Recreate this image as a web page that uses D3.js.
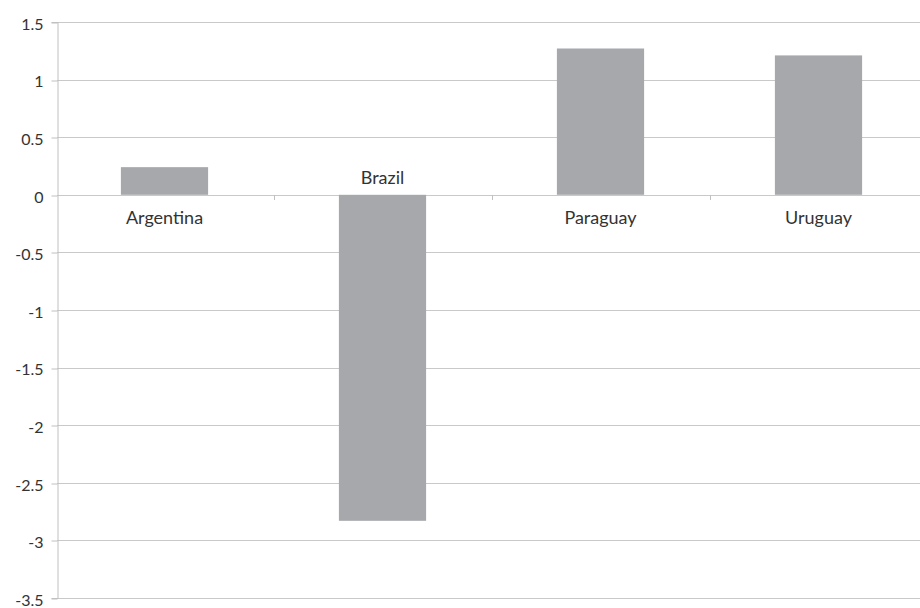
<!DOCTYPE html>
<html>
<head>
<meta charset="utf-8">
<script src="https://cdn.jsdelivr.net/npm/d3@7"></script>
<style>
  html, body { margin: 0; padding: 0; background: #fff; }
  svg { display: block; }
  text { font-family: Lato, "Open Sans", sans-serif; fill: #333; }
</style>
</head>
<body>
<svg id="chart" width="920" height="608"></svg>
<script>
const categories = ["Argentina", "Brazil", "Paraguay", "Uruguay"];
const values = [0.24, -2.83, 1.27, 1.21];
const yTicks = [1.5, 1, 0.5, 0, -0.5, -1, -1.5, -2, -2.5, -3, -3.5];
const yTickLabels = ["1.5", "1", "0.5", "0", "-0.5", "-1", "-1.5", "-2", "-2.5", "-3", "-3.5"];

const svg = d3.select("#chart");
const W = 920;
const axisX = 57;

const x = d3.scaleBand().domain(categories).range([55.5, 927.5]).paddingInner(0.6).paddingOuter(0.3);
const y = d3.scaleLinear().domain([-3.5, 1.5]).range([598, 22]);

// gridlines
svg.append("g").selectAll("line").data(yTicks).join("line")
  .attr("x1", axisX).attr("x2", W)
  .attr("y1", d => Math.round(y(d)) + 0.5).attr("y2", d => Math.round(y(d)) + 0.5)
  .attr("stroke", "#c9c9c9").attr("stroke-width", 1);

// y axis
const yAxis = d3.axisLeft(y).tickValues(yTicks)
  .tickFormat((d, i) => yTickLabels[i]).tickSize(6).tickPadding(8);
const gy = svg.append("g").attr("transform", `translate(${axisX + 0.5},0)`).call(yAxis);
gy.select(".domain").attr("stroke", "#c0c0c0");
gy.selectAll(".tick line").attr("stroke", "#c0c0c0")
  .attr("transform", d => `translate(0,${Math.round(y(d)) + 0.5 - y(d)})`);
gy.selectAll(".tick text").attr("font-size", 16).attr("fill", "#333")
  .attr("font-family", "Lato, 'Open Sans', sans-serif").attr("dy", "0.45em");

// bars
svg.append("g").selectAll("rect").data(values).join("rect")
  .attr("x", (d, i) => x(categories[i]))
  .attr("width", x.bandwidth())
  .attr("y", d => y(Math.max(0, d)))
  .attr("height", d => Math.abs(y(d) - y(0)))
  .attr("fill", "#a7a8ab");

// category ticks on the zero line
const step = x.step();
const bounds = categories.slice(1).map(c => x(c) - (step - x.bandwidth()) / 2);
svg.append("g").selectAll("line").data(bounds).join("line")
  .attr("x1", d => Math.round(d) + 0.5).attr("x2", d => Math.round(d) + 0.5)
  .attr("y1", Math.round(y(0))).attr("y2", Math.round(y(0)) + 5)
  .attr("stroke", "#c0c0c0");

// category labels
svg.append("g").selectAll("text").data(values).join("text")
  .attr("x", (d, i) => x(categories[i]) + x.bandwidth() / 2)
  .attr("y", d => d >= 0 ? y(0) + 29 : y(0) - 11)
  .attr("text-anchor", "middle")
  .attr("font-size", 18)
  .text((d, i) => categories[i]);
</script>
</body>
</html>
